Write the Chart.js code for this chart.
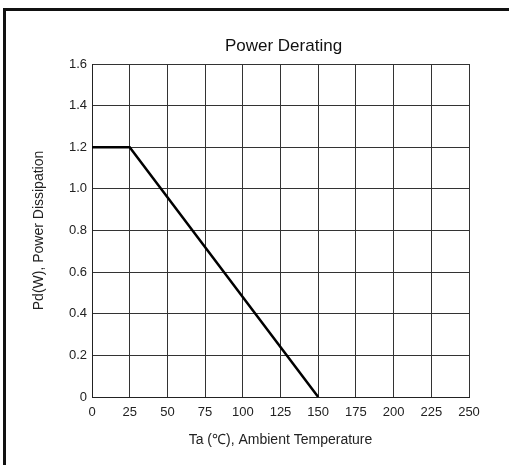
<!DOCTYPE HTML>
<html>
<head>
  <script src="https://cdn.jsdelivr.net/npm/chart.js@4/dist/chart.umd.min.js"></script>
  <style>
    body { margin: 0; background: #fff; }
    #frame { position: absolute; left: 3px; top: 8px; width: 520px; height: 480px;
             border-top: 3px solid #111; border-left: 3px solid #111; }
    #wrap { position: absolute; left: 0; top: 0; width: 509px; height: 465px; }
  </style>
</head>
<body>
  <div id="frame"></div>
  <div id="wrap"><canvas id="myChart" width="509" height="465"></canvas></div>

  <script type="text/javascript">
    // values
    var chartTitle = 'Power Derating';
    var xTitle = 'Ta (\u2103), Ambient Temperature';
    var yTitle = 'Pd(W), Power Dissipation';
    var temps = [0, 25, 150];          // Ta, degrees C
    var power = [1.2, 1.2, 0];         // Pd, W
    var xTickLabels = ['0', '25', '50', '75', '100', '125', '150', '175', '200', '225', '250'];
    var yTickLabels = ['0', '0.2', '0.4', '0.6', '0.8', '1.0', '1.2', '1.4', '1.6'];

    var fontFam = '"Liberation Sans", Arial, sans-serif';

    var points = temps.map(function (t, i) { return { x: t, y: power[i] }; });

    // chart title centred over the plot area
    var topTitle = {
      id: 'topTitle',
      afterDraw: function (chart) {
        var ctx = chart.ctx, a = chart.chartArea;
        ctx.save();
        ctx.font = '17px ' + fontFam;
        ctx.fillStyle = '#111';
        ctx.textAlign = 'center';
        ctx.textBaseline = 'middle';
        ctx.fillText(chartTitle, (a.left + a.right) / 2 + 3, 46);
        ctx.restore();
      }
    };

    var ctx = document.getElementById('myChart');
    var myChart = new Chart(ctx, {
      type: 'line',
      data: {
        datasets: [{
          data: points,
          borderColor: '#000',
          borderWidth: 2.5,
          pointRadius: 0,
          fill: false,
          tension: 0
        }]
      },
      options: {
        responsive: false,
        animation: false,
        layout: { padding: { top: 64, left: 0, right: 40, bottom: 8 } },
        plugins: {
          legend: { display: false },
          title: { display: false },
          tooltip: { enabled: false }
        },
        scales: {
          x: {
            type: 'linear',
            min: 0, max: 250,
            afterFit: function (s) { s.height = 60; },
            ticks: {
              stepSize: 25,
              padding: 8,
              color: '#222',
              font: { family: fontFam, size: 13 },
              callback: function (v, i) { return xTickLabels[i]; }
            },
            grid: { color: '#333', lineWidth: 1, drawTicks: false },
            border: { color: '#222', width: 1 },
            title: {
              display: true,
              text: xTitle,
              color: '#222',
              font: { family: fontFam, size: 14 },
              padding: { top: 0, bottom: 8 }
            }
          },
          y: {
            type: 'linear',
            min: 0, max: 1.6,
            afterFit: function (s) { s.width = 92; },
            ticks: {
              stepSize: 0.2,
              padding: 5,
              color: '#222',
              font: { family: fontFam, size: 13 },
              callback: function (v, i) { return yTickLabels[i]; }
            },
            grid: { color: '#333', lineWidth: 1, drawTicks: false },
            border: { color: '#222', width: 1 },
            title: {
              display: true,
              text: yTitle,
              color: '#222',
              font: { family: fontFam, size: 14 },
              padding: { top: 31, bottom: 0 }
            }
          }
        }
      },
      plugins: [topTitle]
    });
  </script>
</body>
</html>
